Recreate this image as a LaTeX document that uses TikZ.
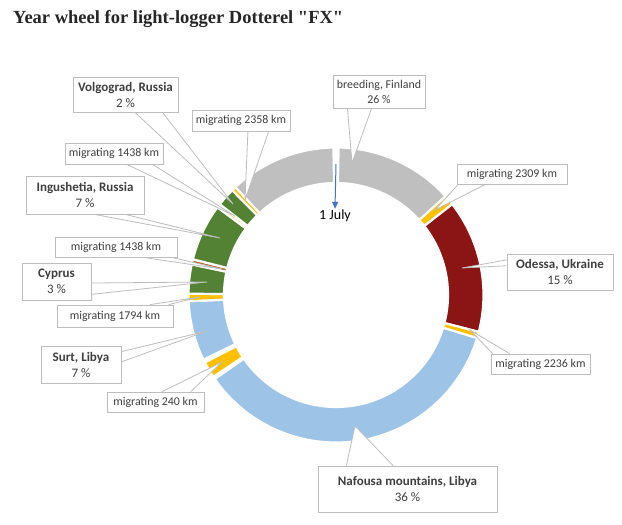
\documentclass[tikz,border=0pt]{standalone}
\usepackage{fontspec}
\setmainfont{Carlito}
\newfontfamily\titlefont{Liberation Serif}
\usetikzlibrary{calc,arrows.meta}
\pgfdeclarelayer{bg}
\pgfdeclarelayer{ring}
\pgfdeclarelayer{cfill}
\pgfsetlayers{bg,ring,cfill,main}
\definecolor{cgray}{HTML}{BFBFBF}
\definecolor{cyel}{HTML}{FFC000}
\definecolor{cred}{HTML}{8B1515}
\definecolor{cblue}{HTML}{9DC3E6}
\definecolor{cgreen}{HTML}{548235}
\definecolor{cbrown}{HTML}{B5652A}
\definecolor{ctext}{HTML}{3F3F3F}
\definecolor{cline}{HTML}{BDBDBD}
\definecolor{carrow}{HTML}{4472C4}
\newcommand\RingOut{147.5}
\newcommand\RingIn{112}
\newcommand\ringslice[3]{%
  \begin{pgfonlayer}{ring}
  \fill[#3, draw=white, line width=2.2pt] ($(C)+(#1:\RingOut)$) arc[start angle=#1, end angle=#2, radius=\RingOut]
    -- ($(C)+(#2:\RingIn)$) arc[start angle=#2, end angle=#1, radius=\RingIn] -- cycle;
  \end{pgfonlayer}}
\newcommand\wedgeto[3]{%
  \begin{pgfonlayer}{cfill}\fill[white] #1 -- #3 -- #2 -- cycle;\end{pgfonlayer}
  \draw[cline, line width=0.8pt] #1 -- #3 -- #2;}
\begin{document}
\begin{tikzpicture}[x=1pt, y=1pt, yscale=-1,
  lbl/.style={draw=cline, fill=white, line width=0.8pt, text=ctext,
    font=\fontsize{11.9}{15}\selectfont, align=center, inner sep=0pt},
  box/.style 2 args={lbl, minimum width=#1pt, minimum height=#2pt},
  place/.style={font=\fontsize{13}{16}\selectfont}]
\begin{pgfonlayer}{bg}
\fill[white] (0,0) rectangle (622,525);
\end{pgfonlayer}
\useasboundingbox (0,0) rectangle (622,525);
\node[anchor=base west, font=\titlefont\bfseries\fontsize{18.5}{20}\selectfont, text={rgb,255:red,38;green,38;blue,38}, inner sep=0pt] (title) at (13,23) {Year wheel for light-logger Dotterel "FX"};
\coordinate (C) at (336,295);
% ring
\ringslice{-89}{-42}{cgray}
\ringslice{-42}{-38}{cyel}
\ringslice{-38}{14.5}{cred}
\ringslice{14.5}{17}{cyel}
\ringslice{17}{145.3}{cblue}
\ringslice{146.3}{152.8}{cyel}
\ringslice{154}{177.6}{cblue}
\ringslice{177.6}{180.5}{cyel}
\ringslice{180.5}{192}{cgreen}
\ringslice{192}{194}{cbrown}
\ringslice{194}{216.5}{cgreen}
\ringslice{216.5}{218}{cyel!40}
\ringslice{218}{225.3}{cgreen}
\ringslice{225.3}{227}{cyel}
\ringslice{227}{269}{cgray}
% 1 July marker
\coordinate (jt) at (336,164);
\node[font=\fontsize{14}{16}\selectfont, inner sep=1pt] (july) at (335,216) {1 July};
\draw[carrow, line width=1pt, -{Triangle[length=7pt,width=6pt]}] (jt) -- (july.north);
% label boxes
\node[box={105}{35}, place] (volg) at (125.5,94.5) {\bfseries Volgograd, Russia\\2 \%};
\node[box={98}{21}] (m2358) at (241,120.5) {migrating 2358 km};
\node[box={92}{33}] (breed) at (379,91.5) {breeding, Finland\\26 \%};
\node[box={98}{21}] (m1438a) at (114,153.5) {migrating 1438 km};
\node[box={118}{38}, place] (ingu) at (85,195) {\bfseries Ingushetia, Russia\\7 \%};
\node[box={122}{20}] (m1438b) at (116,247.5) {migrating 1438 km};
\node[box={69}{37}, place] (cyp) at (56.5,281.5) {\bfseries Cyprus\\3 \%};
\node[box={116}{22}] (m1794) at (115,316) {migrating 1794 km};
\node[box={80}{37}, place] (surt) at (81,364.5) {\bfseries Surt, Libya\\7 \%};
\node[box={97}{20}] (m240) at (155.5,402) {migrating 240 km};
\node[box={110}{20}] (m2309) at (512,174.5) {migrating 2309 km};
\node[box={106}{36}, place] (odessa) at (560,272) {\bfseries Odessa, Ukraine\\15 \%};
\node[box={99}{20}] (m2236) at (540.5,364) {migrating 2236 km};
\node[box={179}{46}, place] (naf) at (407.5,489) {\bfseries Nafousa mountains, Libya\\36 \%};
% pointer tips
\coordinate (volgT) at (233,204);
\coordinate (m2358T) at (245,200);
\coordinate (breedT) at (352,163);
\coordinate (m1438aT) at (235,216);
\coordinate (inguT) at (220,238);
\coordinate (m1438bT) at (222,269);
\coordinate (cypT) at (207,282);
\coordinate (m1794T) at (200,297);
\coordinate (surtT) at (207,331);
\coordinate (m240T) at (222,362);
\coordinate (m2309T) at (435,210);
\coordinate (odessaT) at (462,268);
\coordinate (m2236T) at (470,330);
\coordinate (nafT) at (355,426);
% pointers
\wedgeto{($(volg.south west)!0.59!(volg.south east)$)}{($(volg.south west)!0.85!(volg.south east)$)}{(volgT)}
\wedgeto{($(m2358.south west)!0.57!(m2358.south east)$)}{($(m2358.south west)!0.78!(m2358.south east)$)}{(m2358T)}
\wedgeto{($(breed.south west)!0.16!(breed.south east)$)}{($(breed.south west)!0.42!(breed.south east)$)}{(breedT)}
\wedgeto{($(m1438a.south west)!0.63!(m1438a.south east)$)}{($(m1438a.south west)!0.89!(m1438a.south east)$)}{(m1438aT)}
\wedgeto{($(ingu.south west)!0.58!(ingu.south east)$)}{($(ingu.south west)!0.84!(ingu.south east)$)}{(inguT)}
\wedgeto{($(m1438b.south west)!0.75!(m1438b.south east)$)}{($(m1438b.south west)!0.97!(m1438b.south east)$)}{(m1438bT)}
\wedgeto{($(cyp.north east)!0.54!(cyp.south east)$)}{($(cyp.north east)!0.84!(cyp.south east)$)}{(cypT)}
\wedgeto{($(m1794.north west)!0.8!(m1794.north east)$)}{($(m1794.north west)!0.96!(m1794.north east)$)}{(m1794T)}
\wedgeto{($(surt.north east)!0.16!(surt.south east)$)}{($(surt.north east)!0.43!(surt.south east)$)}{(surtT)}
\wedgeto{($(m240.north west)!0.57!(m240.north east)$)}{($(m240.north west)!0.86!(m240.north east)$)}{(m240T)}
\wedgeto{($(m2309.south west)!0.01!(m2309.south east)$)}{($(m2309.south west)!0.25!(m2309.south east)$)}{(m2309T)}
\wedgeto{($(odessa.north west)!0.17!(odessa.south west)$)}{($(odessa.north west)!0.33!(odessa.south west)$)}{(odessaT)}
\wedgeto{($(m2236.north west)!0.02!(m2236.north east)$)}{($(m2236.north west)!0.19!(m2236.north east)$)}{(m2236T)}
\wedgeto{($(naf.north west)!0.16!(naf.north east)$)}{($(naf.north west)!0.42!(naf.north east)$)}{(nafT)}
\end{tikzpicture}
\end{document}
